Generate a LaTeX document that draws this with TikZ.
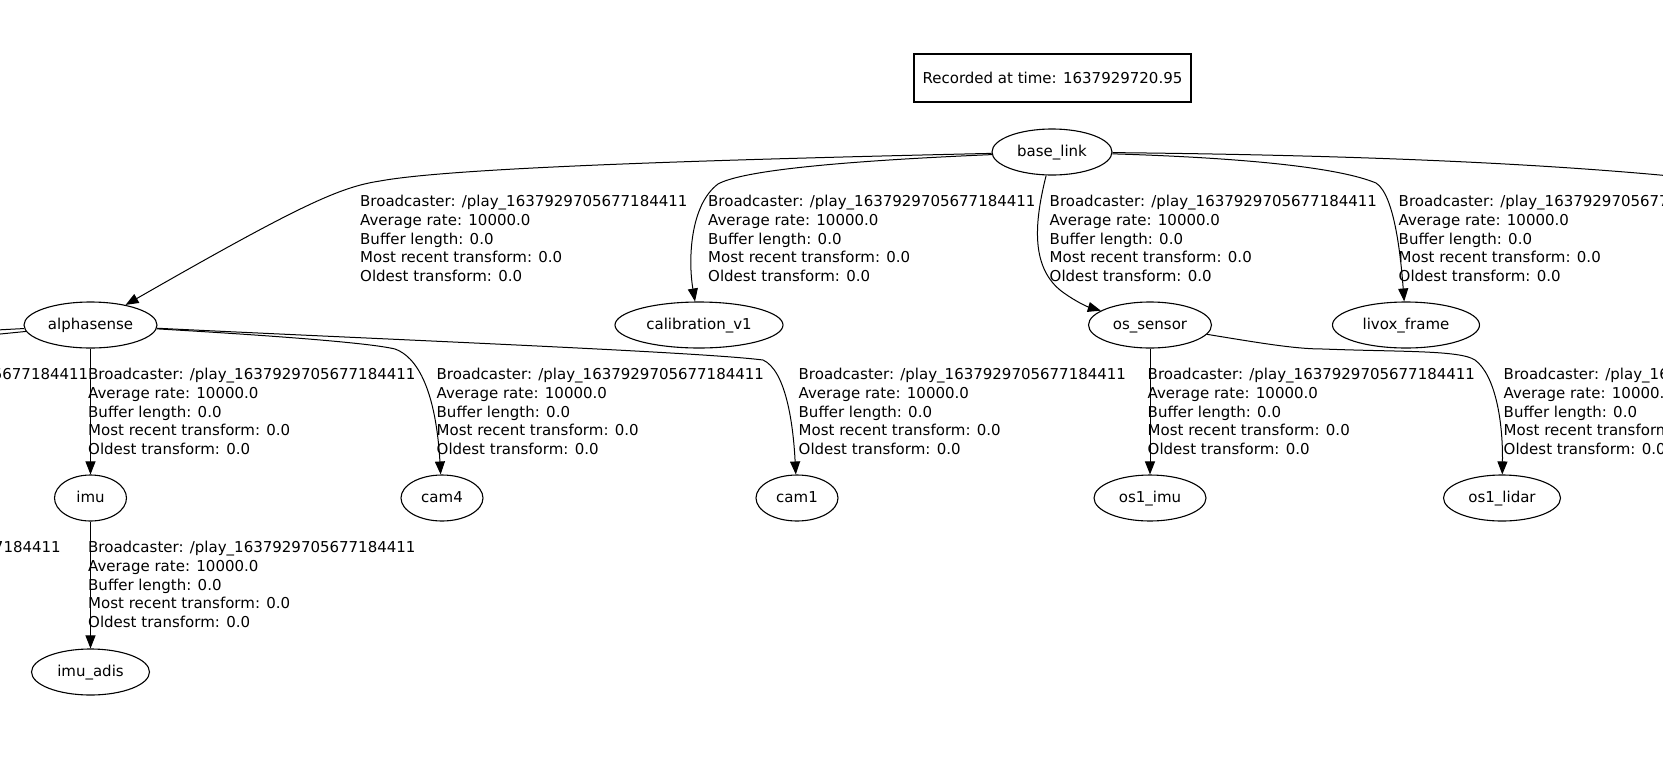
\documentclass[tikz,border=0pt]{standalone}
\usepackage{fontspec}
\setmainfont{DejaVu Sans}
\usetikzlibrary{shapes.geometric,arrows.meta}
\newcommand{\infotext}{Broadcaster: /play\_1637929705677184411\\Average rate: 10000.0\\Buffer length: 0.0\\Most recent transform: 0.0\\Oldest transform: 0.0}

\begin{document}
\begin{tikzpicture}[x=1pt,y=-1pt,>={Triangle[length=13pt,width=10pt]},
    every node/.style={font=\fontsize{15}{18.9}\selectfont},
    frame/.style={draw,ellipse,line width=1.1pt,inner sep=0pt,minimum height=46pt,text height=11pt,text depth=3pt},
    tfinfo/.style={align=left,inner sep=0pt,anchor=north west},
    tfedge/.style={->,line width=1pt}]
\useasboundingbox (0,0) rectangle (1663,756);
\clip (0,0) rectangle (1663,756);

\node[draw,rectangle,line width=1.1pt,minimum width=277pt,minimum height=48pt] (stamp) at (1052.5,78) {Recorded at time: 1637929720.95};

\node[frame,minimum width=120pt] (baselink) at (1052,152) {base\_link};
\node[frame,minimum width=133pt] (alphasense) at (90.5,325) {alphasense};
\node[frame,minimum width=168pt] (calib) at (699,325) {calibration\_v1};
\node[frame,minimum width=123pt] (ossensor) at (1150,325) {os\_sensor};
\node[frame,minimum width=147pt] (livox) at (1406,325) {livox\_frame};
\node[frame,minimum width=72pt] (imu) at (90.5,498) {imu};
\node[frame,minimum width=82pt] (cam4) at (442,498) {cam4};
\node[frame,minimum width=82pt] (cam1) at (797,498) {cam1};
\node[frame,minimum width=112pt] (osimu) at (1150,498) {os1\_imu};
\node[frame,minimum width=117pt] (oslidar) at (1502,498) {os1\_lidar};
\node[frame,minimum width=118pt] (imuadis) at (90.5,672) {imu\_adis};

\coordinate (offright) at (1720,181);
\coordinate (offleftA) at (-60,333);
\coordinate (offleftB) at (-60,340);

% transform labels
\node[tfinfo] (infoalpha) at (360,194.6) {\infotext};
\node[tfinfo] (infocalib) at (708,194.6) {\infotext};
\node[tfinfo] (infoossensor) at (1049.5,194.6) {\infotext};
\node[tfinfo] (infolivox) at (1398.5,194.6) {\infotext};
\node[tfinfo,anchor=north east] (infoleft) at (88.5,367.6) {\infotext};
\node[tfinfo] (infoimu) at (88,367.6) {\infotext};
\node[tfinfo] (infocamfour) at (436.5,367.6) {\infotext};
\node[tfinfo] (infocamone) at (798.5,367.6) {\infotext};
\node[tfinfo] (infoosimu) at (1147.5,367.6) {\infotext};
\node[tfinfo] (infooslidar) at (1503.5,367.6) {\infotext};
\node[tfinfo,anchor=north east] (infolefttwo) at (61,540.6) {\infotext};
\node[tfinfo] (infoimuadis) at (88,540.6) {\infotext};

\draw[tfedge] (baselink) .. controls (700,160) and (450,168) .. (380,181) .. controls (340,187) and (300,205) .. (alphasense);
\draw[tfedge] (baselink) .. controls (820,162) and (740,172) .. (718,184) .. controls (690,205) and (688,260) .. (calib);
\draw[tfedge] (baselink) .. controls (1035,220) and (1030,265) .. (1060,290) .. controls (1070,298) and (1085,306) .. (ossensor);
\draw[tfedge] (baselink) .. controls (1250,158) and (1340,168) .. (1376,183) .. controls (1395,195) and (1401,260) .. (livox);
\draw[tfedge] (baselink) .. controls (1350,155) and (1550,163) .. (offright);

\draw[tfedge] (alphasense) -- (offleftA);
\draw[tfedge] (alphasense) -- (offleftB);
\draw[tfedge] (alphasense) -- (imu);
\draw[tfedge] (alphasense) .. controls (280,336) and (370,343) .. (395,349) .. controls (425,360) and (437,410) .. (cam4);
\draw[tfedge] (alphasense) .. controls (400,340) and (700,352) .. (763,360) .. controls (785,370) and (793,420) .. (cam1);

\draw[tfedge] (ossensor) -- (osimu);
\draw[tfedge] (ossensor) .. controls (1260,343) and (1295,349) .. (1323,349) .. controls (1400,352) and (1460,350) .. (1475,360) .. controls (1495,375) and (1503,420) .. (oslidar);

\draw[tfedge] (imu) -- (imuadis);

\end{tikzpicture}
\end{document}
